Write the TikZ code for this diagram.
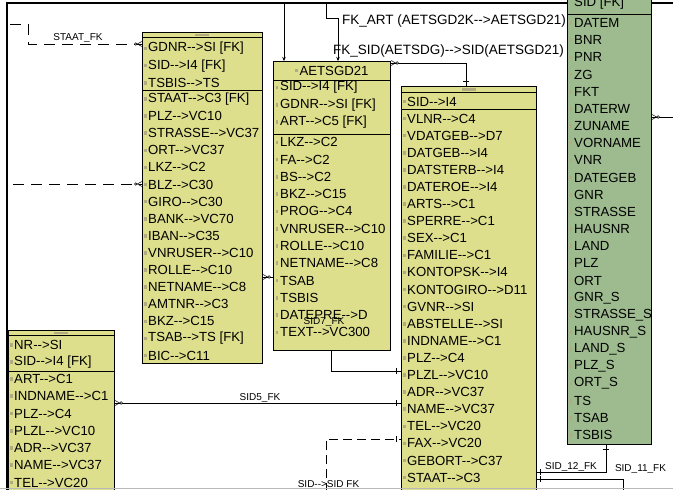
\documentclass[tikz,border=0pt]{standalone}
\usepackage{fontspec}
\setmainfont{Liberation Sans}[Ligatures=TeXOff]
\usetikzlibrary{arrows.meta,calc,decorations.markings}
\definecolor{tabgelb}{RGB}{222,223,140}
\definecolor{tabgruen}{RGB}{158,187,143}
\definecolor{symbol}{RGB}{178,170,128}

\tikzset{
  tabelle/.style={draw=black,line width=0.9pt,fill=tabgelb,inner sep=0pt,anchor=north west},
  zeile/.style={anchor=west,inner sep=0pt,font=\fontsize{13.2}{15}\selectfont},
  fk/.style={line width=0.7pt},
  fkname/.style={inner sep=1pt,font=\fontsize{10}{12}\selectfont},
  fktitel/.style={inner sep=0pt,anchor=west,font=\fontsize{13.5}{15}\selectfont},
  lang/.style={dash pattern=on 11pt off 7pt},
  kurz/.style={dash pattern=on 9pt off 5pt},
  pfeil/.style={-{Stealth[length=4pt,width=3.5pt]}},
  strichende/.style={postaction={decorate,decoration={markings,
    mark=at position -0.2pt with {\draw[solid,line width=0.6pt] (-4.5pt,-3pt) -- (-4.5pt,3pt);}}}},
  strichanfang/.style={postaction={decorate,decoration={markings,
    mark=at position 0.2pt with {\draw[solid,line width=0.6pt] (3.5pt,-3pt) -- (3.5pt,3pt);}}}},
  fussende/.style={postaction={decorate,decoration={markings,
    mark=at position -0.2pt with {\draw[solid,line width=0.5pt] (0,2.5pt) -- (-4.5pt,0) -- (0,-2.5pt);
      \draw[solid,line width=0.5pt,fill=white] (-6pt,0) circle (1.3pt);}}}},
  fussanfang/.style={postaction={decorate,decoration={markings,
    mark=at position 0.2pt with {\draw[solid,line width=0.5pt] (0,2.5pt) -- (4.5pt,0) -- (0,-2.5pt);
      \draw[solid,line width=0.5pt,fill=white] (6pt,0) circle (1.3pt);}}}}
}

\begin{document}
\begin{tikzpicture}[x=1pt,y=-1pt]
  \useasboundingbox (0,0) rectangle (673,490);
  \clip (0,0) rectangle (673,490);
  \fill[white] (0,0) rectangle (673,490);
  % Rahmen
  \draw[line width=2.2pt] (6,3) -- (673,3);
  \draw[line width=1.8pt] (7,3) -- (7,490);

  % Tabelle GDNR
  \node[tabelle,minimum width=120pt,minimum height=331pt] (tGdnr) at (142,32) {};
  \draw[line width=0.9pt] (142,37.5) -- (262,37.5);
  \fill[symbol] (195,33.5) rectangle (209,36);
  \draw[line width=0.9pt] (142,90) -- (262,90);
  \foreach \t [count=\i] in {GDNR-->SI [FK],SID-->I4 [FK],TSBIS-->TS} {
    \pgfmathsetmacro\y{48.5+(\i-1)*17.1}
    \fill[symbol] (144,{\y-1.8}) rectangle ++(2.5,3.6);
    \node[zeile] (gd-\i) at (148,\y) {\t};
  }
  \foreach \t [count=\i from 4] in {STAAT-->C3 [FK],PLZ-->VC10,STRASSE-->VC37,ORT-->VC37,
      LKZ-->C2,BLZ-->C30,GIRO-->C30,BANK-->VC70,IBAN-->C35,VNRUSER-->C10,ROLLE-->C10,
      NETNAME-->C8,AMTNR-->C3,BKZ-->C15,TSAB-->TS [FK],BIC-->C11} {
    \pgfmathsetmacro\y{99+(\i-4)*17.1}
    \fill[symbol] (144,{\y-1.8}) rectangle ++(2.5,3.6);
    \node[zeile] (gd-\i) at (148,\y) {\t};
  }

  % Tabelle AETSGD21
  \node[tabelle,minimum width=117pt,minimum height=289pt] (tAetsgd) at (273,61) {};
  \fill[symbol] (295,{70.5-1.8}) rectangle ++(2.5,3.6);
  \node[zeile,anchor=center] (ae-titel) at (334,70.5) {AETSGD21};
  \draw[line width=0.9pt] (273,80) -- (390,80);
  \draw[line width=0.9pt] (273,134) -- (390,134);
  \foreach \t [count=\i] in {SID-->I4 [FK],GDNR-->SI [FK],ART-->C5 [FK]} {
    \pgfmathsetmacro\y{87.5+(\i-1)*17.2}
    \fill[symbol] (275.5,{\y-1.8}) rectangle ++(2.5,3.6);
    \node[zeile] (ae-\i) at (280,\y) {\t};
  }
  \foreach \t [count=\i from 4] in {LKZ-->C2,FA-->C2,BS-->C2,BKZ-->C15,PROG-->C4,
      VNRUSER-->C10,ROLLE-->C10,NETNAME-->C8,TSAB,TSBIS,DATEPRE-->D,TEXT-->VC300} {
    \pgfmathsetmacro\y{142.3+(\i-4)*17.28}
    \fill[symbol] (275.5,{\y-1.8}) rectangle ++(2.5,3.6);
    \node[zeile] (ae-\i) at (280,\y) {\t};
  }

  % Tabelle VLNR
  \node[tabelle,minimum width=135pt,minimum height=420pt] (tVlnr) at (401,86) {};
  \draw[line width=0.9pt] (401,92) -- (536,92);
  \fill[symbol] (462,87.5) rectangle (476,90.5);
  \draw[line width=0.9pt] (401,109.5) -- (536,109.5);
  \fill[symbol] (403,{101.5-1.8}) rectangle ++(2.5,3.6);
  \node[zeile] (vl-1) at (407,101.5) {SID-->I4};
  \foreach \t [count=\i from 2] in {VLNR-->C4,VDATGEB-->D7,DATGEB-->I4,DATSTERB-->I4,
      DATEROE-->I4,ARTS-->C1,SPERRE-->C1,SEX-->C1,FAMILIE-->C1,KONTOPSK-->I4,
      KONTOGIRO-->D11,GVNR-->SI,ABSTELLE-->SI,INDNAME-->C1,PLZ-->C4,PLZL-->VC10,
      ADR-->VC37,NAME-->VC37,TEL-->VC20,FAX-->VC20,GEBORT-->C37,STAAT-->C3} {
    \pgfmathsetmacro\y{118.5+(\i-2)*17.1}
    \fill[symbol] (403,{\y-1.8}) rectangle ++(2.5,3.6);
    \node[zeile] (vl-\i) at (407,\y) {\t};
  }

  % Tabelle NR
  \node[tabelle,minimum width=106pt,minimum height=170pt] (tNr) at (8,330) {};
  \draw[line width=0.9pt] (8,335.5) -- (114,335.5);
  \fill[symbol] (54,331.5) rectangle (68,334);
  \draw[line width=0.9pt] (8,371) -- (114,371);
  \foreach \t [count=\i] in {NR-->SI,SID-->I4 [FK]} {
    \pgfmathsetmacro\y{345+(\i-1)*17}
    \fill[symbol] (10,{\y-1.8}) rectangle ++(2.5,3.6);
    \node[zeile] (nr-\i) at (14,\y) {\t};
  }
  \foreach \t [count=\i from 3] in {ART-->C1,INDNAME-->C1,PLZ-->C4,PLZL-->VC10,
      ADR-->VC37,NAME-->VC37,TEL-->VC20} {
    \pgfmathsetmacro\y{379+(\i-3)*17.25}
    \fill[symbol] (10,{\y-1.8}) rectangle ++(2.5,3.6);
    \node[zeile] (nr-\i) at (14,\y) {\t};
  }

  % Tabelle DATEM (gruen)
  \node[tabelle,fill=tabgruen,minimum width=84pt,minimum height=474pt] (tDatem) at (567,-30) {};
  \draw[line width=0.9pt] (567,14) -- (651,14);
  \node[zeile] (dm-0) at (574,3.5) {SID [FK]};
  \foreach \t [count=\i] in {DATEM,BNR,PNR,ZG,FKT,DATERW,ZUNAME,VORNAME,VNR,DATEGEB,
      GNR,STRASSE,HAUSNR,LAND,PLZ,ORT,GNR\_S,STRASSE\_S,HAUSNR\_S,LAND\_S,PLZ\_S,
      ORT\_S,TS,TSAB,TSBIS} {
    \pgfmathsetmacro\y{23+(\i-1)*17.17}
    \fill[symbol] (569.5,{\y-1.8}) rectangle ++(2.5,3.6);
    \node[zeile] (dm-\i) at (574,\y) {\t};
  }

  % STAAT_FK
  \coordinate (staatA) at (10,24);
  \coordinate (staatE) at ([yshift=-12pt]tGdnr.north west);
  \draw[fk,lang,fussende] (staatA) -- ++(18,0) |- (staatE);
  \node[fkname] (staatL) at (78,38) {STAAT\_FK};
  % zu BLZ
  \coordinate (blzA) at (13,184);
  \draw[fk,lang,fussende] (blzA) -- (blzA -| tGdnr.west);
  % GDNR -> AETSGD21
  \coordinate (gdAe) at ([yshift=-245pt]tGdnr.north east);
  \draw[fk,fussanfang] (gdAe) -- (gdAe -| tAetsgd.west);
  % FK_ART
  \coordinate (artA) at (284,4);
  \coordinate (artB) at (326,4);
  \draw[fk,pfeil] (artA) -- (artA |- tAetsgd.north);
  \draw[fk,pfeil] (artB) -- ++(0,14) -| ([xshift=65pt]tAetsgd.north west);
  \node[fktitel] (artL) at (342,21.5) {FK\_ART (AETSGD2K-->AETSGD21)};
  % FK_SID
  \coordinate (sidA) at ([yshift=-2pt]tAetsgd.north east);
  \draw[fk,fussanfang,strichende] (sidA) -| ([xshift=65pt]tVlnr.north west);
  \node[fktitel] (sidL) at (333,51.5) {FK\_SID(AETSDG)-->SID(AETSGD21)};
  % SID7_FK
  \coordinate (sid7A) at ([xshift=58pt]tAetsgd.south west);
  \coordinate (sid7E) at ([yshift=-285pt]tVlnr.north west);
  \draw[fk,strichende] (sid7A) |- (sid7E);
  \node[fkname] (sid7L) at (324,322) {SID7\_FK};
  % SID5_FK
  \coordinate (sid5A) at ([yshift=-73pt]tNr.north east);
  \draw[fk,fussanfang,strichende] (sid5A) -- (sid5A -| tVlnr.west);
  \node[fkname] (sid5L) at (260,397.5) {SID5\_FK};
  % SID-->SID FK
  \coordinate (ssA) at (326,492);
  \coordinate (ssE) at ([yshift=-353pt]tVlnr.north west);
  \draw[fk,kurz,strichende] (ssA) |- (ssE);
  \node[fkname] (ssL) at (328.5,484) {SID-->SID FK};
  % SID_12_FK
  \coordinate (s12A) at ([yshift=-386pt]tVlnr.north east);
  \draw[fk,strichanfang,strichende] (s12A) -| ([xshift=39pt]tDatem.south west);
  \node[fkname] (s12L) at (571,466.5) {SID\_12\_FK};
  % SID_11_FK
  \coordinate (s11A) at ([yshift=-393pt]tVlnr.north east);
  \coordinate (s11E) at (623,492);
  \draw[fk,strichanfang] (s11A) -| (s11E);
  \node[fkname] (s11L) at (640.5,469) {SID\_11\_FK};
  % rechts von DATEM
  \coordinate (dmA) at ([yshift=-147pt]tDatem.north east);
  \coordinate (dmE) at (675,117);
  \draw[fk,fussanfang] (dmA) -- (dmE);

  \draw[gray!55,line width=1pt] (0,488.5) -- (673,488.5);
\end{tikzpicture}
\end{document}
